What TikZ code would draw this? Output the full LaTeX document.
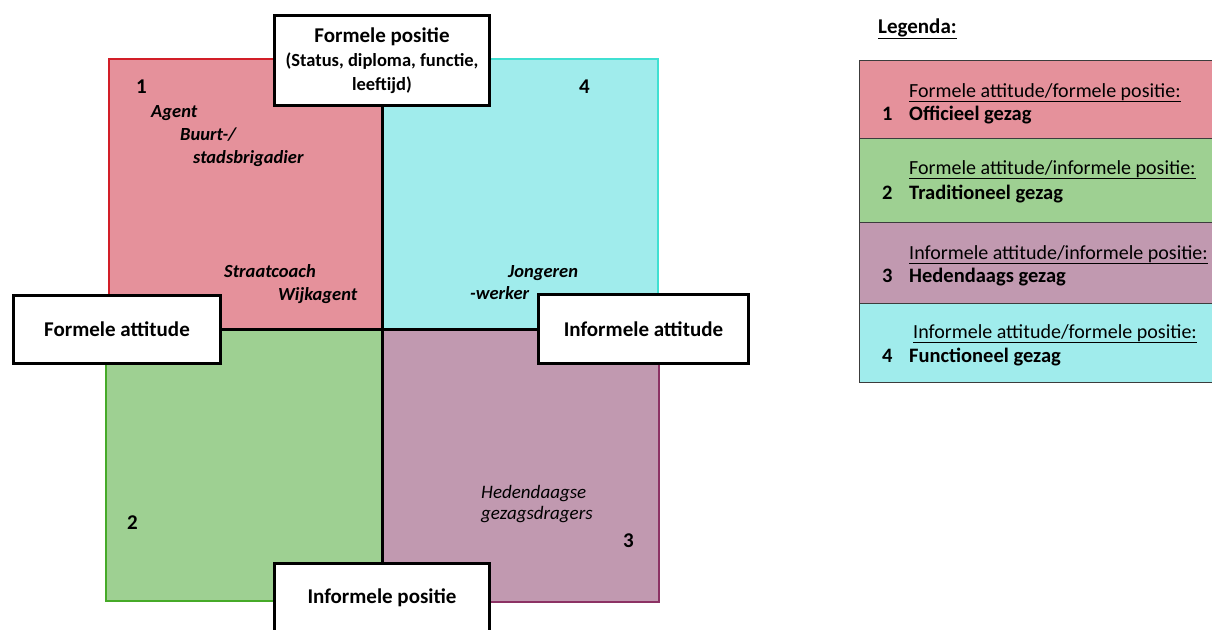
\documentclass[tikz,border=0pt]{standalone}
\usepackage{fontspec}
\setmainfont{Carlito}
\usetikzlibrary{positioning}
\definecolor{kwrood}{RGB}{229,145,155}
\definecolor{kwroodrand}{RGB}{210,30,40}
\definecolor{kwgroen}{RGB}{158,208,146}
\definecolor{kwgroenrand}{RGB}{70,170,40}
\definecolor{kwpaars}{RGB}{193,153,176}
\definecolor{kwpaarsrand}{RGB}{140,50,100}
\definecolor{kwcyaan}{RGB}{160,236,236}
\definecolor{kwcyaanrand}{RGB}{64,224,210}
\definecolor{legrand}{RGB}{60,60,60}
\begin{document}
\begin{tikzpicture}[x=1pt,y=-1pt,
    asbox/.style={draw=black,line width=3pt,fill=white,align=center,inner sep=0pt,
        font=\bfseries\fontsize{21}{25}\selectfont},
    as/.style={line width=3pt,draw=black},
    kwnum/.style={anchor=base west,inner sep=0pt,font=\bfseries\fontsize{21}{25}\selectfont},
    kwlabel/.style={anchor=base west,inner sep=0pt,font=\bfseries\itshape\fontsize{18.5}{22}\selectfont},
    legrij/.style={draw=legrand,line width=1.2pt,anchor=north west,minimum width=361pt,inner sep=0pt},
    legkop/.style={anchor=base west,inner sep=0pt,font=\fontsize{20}{24}\selectfont},
    legnaam/.style={anchor=base west,inner sep=0pt,font=\bfseries\fontsize{20.5}{24}\selectfont}]
\useasboundingbox (0,0) rectangle (1212,629);

% kwadranten
\draw[fill=kwrood,draw=kwroodrand,line width=1.5pt] (109,59) rectangle (382,330);
\draw[fill=kwcyaan,draw=kwcyaanrand,line width=1.5pt] (382,59) rectangle (658,330);
\draw[fill=kwgroen,draw=kwgroenrand,line width=1.5pt] (106,330) rectangle (382,601);
\draw[fill=kwpaars,draw=kwpaarsrand,line width=2pt] (382,330) rectangle (659,602);

% assen
\node[asbox,minimum width=215pt,minimum height=90pt] (fpos) at (382,60.5)
    {Formele positie\\[-1pt]{\fontsize{18.5}{22}\selectfont (Status, diploma, functie,}\\[-1pt]{\fontsize{18.5}{22}\selectfont leeftijd)}};
\node[asbox,minimum width=215pt,minimum height=90pt] (ipos) at (382,608.5) {\raisebox{24pt}{Informele positie}};
\node[asbox,minimum width=207pt,minimum height=68pt] (fatt) at (117,329) {Formele attitude};
\node[asbox,minimum width=210pt,minimum height=69pt] (iatt) at (643.5,329) {Informele attitude};

\draw[as] (fpos) -- (ipos); \draw[as] (fatt) -- (iatt);

% nummers en labels
\node[kwnum] (n1) at (136,93) {1};
\node[kwnum] (n4) at (579,93) {4};
\node[kwnum] (n2) at (127,529) {2};
\node[kwnum] (n3) at (623,547) {3};
\node[kwlabel] (agent) at (151,117) {Agent};
\node[kwlabel] (buurt) at (180,140) {Buurt-/};
\node[kwlabel] (stads) at (193,163) {stadsbrigadier};
\node[kwlabel] (straat) at (224,277) {Straatcoach};
\node[kwlabel] (wijk) at (278,300) {Wijkagent};
\node[kwlabel] (jong) at (508,277) {Jongeren};
\node[kwlabel] (werker) at (470,299) {-werker};
\node[kwlabel,font=\itshape\fontsize{19}{23}\selectfont] (heden) at (481,498) {Hedendaagse};
\node[kwlabel,font=\itshape\fontsize{19}{23}\selectfont] (dragers) at (481,519) {gezagsdragers};

% legenda
\node[anchor=base west,inner sep=0pt,font=\bfseries\fontsize{21}{25}\selectfont] (legtitel) at (878,33) {\underline{Legenda:}};
\node[legrij,fill=kwrood,minimum height=78pt] (leg1) at (859,60) {};
\node[legrij,fill=kwgroen,minimum height=84pt] (leg2) at (859,138) {};
\node[legrij,fill=kwpaars,minimum height=81pt] (leg3) at (859,222) {};
\node[legrij,fill=kwcyaan,minimum height=79pt] (leg4) at (859,303) {};

\node[legkop] (kop1) at (909,97) {\underline{Formele attitude/formele positie:}};
\node[legnaam] (num1) at (882,120) {1};
\node[legnaam] (naam1) at (909,120) {Officieel gezag};
\node[legkop] (kop2) at (909,174) {\underline{Formele attitude/informele positie:}};
\node[legnaam] (num2) at (882,199) {2};
\node[legnaam] (naam2) at (909,199) {Traditioneel gezag};
\node[legkop] (kop3) at (909,259) {\underline{Informele attitude/informele positie:}};
\node[legnaam] (num3) at (882,282) {3};
\node[legnaam] (naam3) at (909,282) {Hedendaags gezag};
\node[legkop] (kop4) at (913,338) {\underline{Informele attitude/formele positie:}};
\node[legnaam] (num4) at (882,362) {4};
\node[legnaam] (naam4) at (909,362) {Functioneel gezag};
\end{tikzpicture}
\end{document}
